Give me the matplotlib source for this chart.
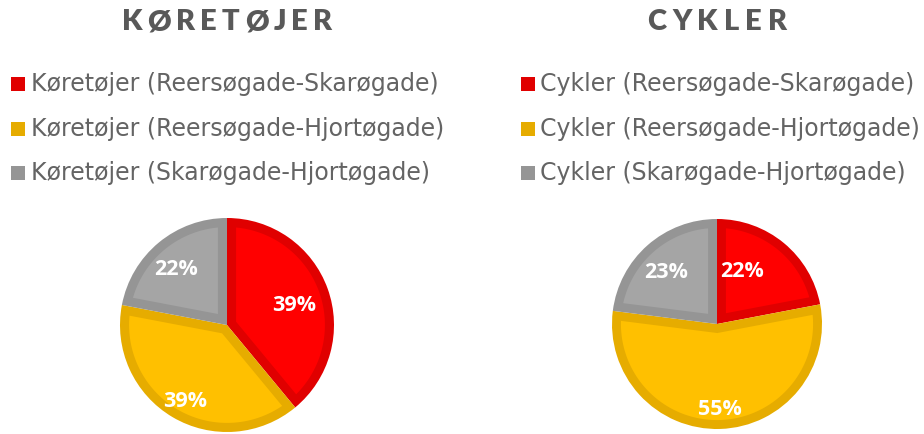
import numpy as np
import matplotlib
matplotlib.use("Agg")
import matplotlib.pyplot as plt
from matplotlib.patches import Rectangle, Polygon

# data
titles = ["KØRETØJER", "CYKLER"]
prefixes = ["Køretøjer", "Cykler"]
routes = ["Reersøgade-Skarøgade", "Reersøgade-Hjortøgade", "Skarøgade-Hjortøgade"]
koretojer = [39, 39, 22]
cykler = [22, 55, 23]

face_colors = ["#FF0000", "#FFC000", "#A5A5A5"]
edge_colors = ["#E00000", "#E6AC00", "#959595"]
text_gray = "#595959"

W, H = 924, 434
fig = plt.figure(figsize=(W / 100, H / 100), dpi=100)
fig.patch.set_facecolor("white")


def px_axes(cx, cy, r):
    return fig.add_axes([(cx - r) / W, (H - cy - r) / H, 2 * r / W, 2 * r / H])


def inset_wedge(theta1, theta2, r, d):
    # slice shrunk by d on every side, so the darker slice shows as an inner border
    a1, a2 = np.deg2rad(theta1), np.deg2rad(theta2)
    half = (a2 - a1) / 2
    apex = d / np.sin(half) * np.array([np.cos(a1 + half), np.sin(a1 + half)])
    rho = r - d
    s = np.arcsin(d / rho)
    arc = np.linspace(a1 + s, a2 - s, 120)
    pts = np.column_stack([rho * np.cos(arc), rho * np.sin(arc)])
    return np.vstack([apex, pts])


def draw_pie(ax, values, label_dist, label_turn, border=0.085):
    wedges, _ = ax.pie(values, colors=edge_colors, startangle=90, counterclock=False,
                       radius=1.0, wedgeprops=dict(linewidth=0))
    for w, fc, d, turn, v in zip(wedges, face_colors, label_dist, label_turn, values):
        ax.add_patch(Polygon(inset_wedge(w.theta1, w.theta2, w.r, border),
                             closed=True, facecolor=fc, edgecolor="none"))
        mid = np.deg2rad((w.theta1 + w.theta2) / 2 + turn)
        ax.annotate(f"{v}%", (d * np.cos(mid), d * np.sin(mid)), xytext=(0, -2),
                    textcoords="offset pixels", ha="center", va="center",
                    color="white", fontsize=15.5, fontweight="bold", family="Open Sans")
    ax.set_xlim(-1, 1)
    ax.set_ylim(-1, 1)
    ax.set_aspect("equal")
    ax.axis("off")


ax1 = px_axes(227, 325, 107)
draw_pie(ax1, koretojer, [0.66, 0.8, 0.72], [-2, 1, 2])
ax2 = px_axes(717, 324, 105)
draw_pie(ax2, cykler, [0.57, 0.8, 0.7], [15, 0, 2])

# titles, letter spaced by hand
renderer = fig.canvas.get_renderer()
title_width = 210
for t, x in zip(titles, [227, 717]):
    chars = [fig.text(0, 1 - 22 / H, ch, ha="left", va="center", fontsize=21,
                      fontweight="heavy", color=text_gray, family="Lato") for ch in t]
    widths = [c.get_window_extent(renderer).width for c in chars]
    gap = (title_width * len(t) / 9 - sum(widths)) / (len(t) - 1)
    pos = x - (sum(widths) + gap * (len(t) - 1)) / 2
    for c, wd in zip(chars, widths):
        c.set_x(pos / W)
        pos += wd + gap

# legends
rows_y = [84, 129, 173]
for prefix, sq_x, tx in zip(prefixes, [11, 521], [31, 540]):
    for route, ec, y in zip(routes, edge_colors, rows_y):
        fig.patches.append(Rectangle((sq_x / W, 1 - (y + 7) / H), 14 / W, 14 / H,
                                     transform=fig.transFigure, facecolor=ec,
                                     edgecolor="none", figure=fig))
        fig.text(tx / W, 1 - y / H, f"{prefix} ({route})", ha="left", va="center",
                 fontsize=17, color="#646464", family="DejaVu Sans")

fig.savefig("out.png", dpi=100)
